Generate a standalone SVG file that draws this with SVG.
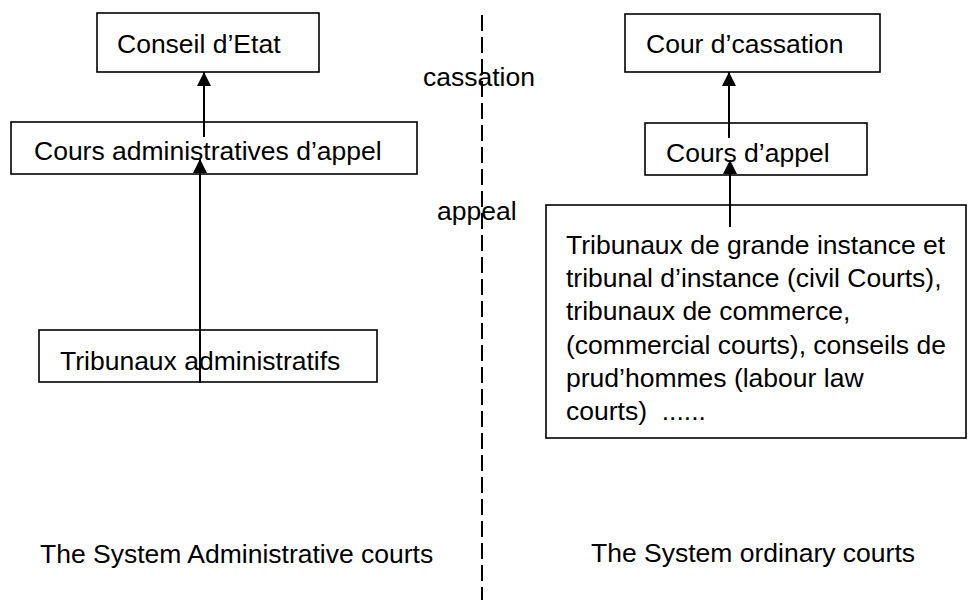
<svg xmlns="http://www.w3.org/2000/svg" width="968" height="600" viewBox="0 0 968 600">
<style>
.box{fill:#fff;stroke:#000;stroke-width:1.6}
.t{font-family:"Liberation Sans",Arial,sans-serif;font-size:26.5px;fill:#000}
.c{stroke:#000;stroke-width:2;fill:none}
</style>
<defs>
<marker id="ah" markerUnits="userSpaceOnUse" markerWidth="14" markerHeight="14" refX="14" refY="7" orient="auto">
<path d="M0,0 L14,7 L0,14 Z" fill="#000"/>
</marker>
</defs>
<line x1="482" y1="15" x2="482" y2="600" stroke="#000" stroke-width="2" stroke-dasharray="16 6"/>
<g id="conseil">
<rect class="box" x="97" y="13" width="222" height="59"/>
<text class="t" x="117" y="53">Conseil d’Etat</text>
</g>
<g id="cours-admin">
<rect class="box" x="11" y="122" width="406" height="52"/>
<text class="t" x="34" y="160">Cours administratives d’appel</text>
</g>
<g id="tribunaux-admin">
<rect class="box" x="39" y="330" width="338" height="52"/>
<text class="t" x="60" y="370">Tribunaux administratifs</text>
</g>
<g id="cour-cassation">
<rect class="box" x="625" y="14" width="255" height="58"/>
<text class="t" x="646" y="53">Cour d’cassation</text>
</g>
<g id="cours-appel">
<rect class="box" x="645" y="123" width="222" height="52"/>
<text class="t" x="666" y="162">Cours d’appel</text>
</g>
<g id="tribunaux-ordinary">
<rect class="box" x="546" y="205" width="420" height="233"/>
<text class="t" x="566" y="254">Tribunaux de grande instance et</text>
<text class="t" x="566" y="287">tribunal d’instance (civil Courts),</text>
<text class="t" x="566" y="320">tribunaux de commerce,</text>
<text class="t" x="566" y="354">(commercial courts), conseils de</text>
<text class="t" x="566" y="387">prud’hommes (labour law</text>
<text class="t" x="566" y="420" xml:space="preserve">courts)  ......</text>
</g>
<g id="connectors">
<line class="c" x1="204" y1="137" x2="204" y2="72" marker-end="url(#ah)"/>
<line class="c" x1="200" y1="383" x2="200" y2="159" marker-end="url(#ah)"/>
<line class="c" x1="729" y1="138" x2="729" y2="72" marker-end="url(#ah)"/>
<line class="c" x1="730" y1="227" x2="730" y2="160" marker-end="url(#ah)"/>
</g>
<g id="labels">
<text class="t" x="423" y="86">cassation</text>
<text class="t" x="437" y="220">appeal</text>
<text class="t" x="40" y="563">The System Administrative courts</text>
<text class="t" x="591" y="562">The System ordinary courts</text>
</g>
</svg>
